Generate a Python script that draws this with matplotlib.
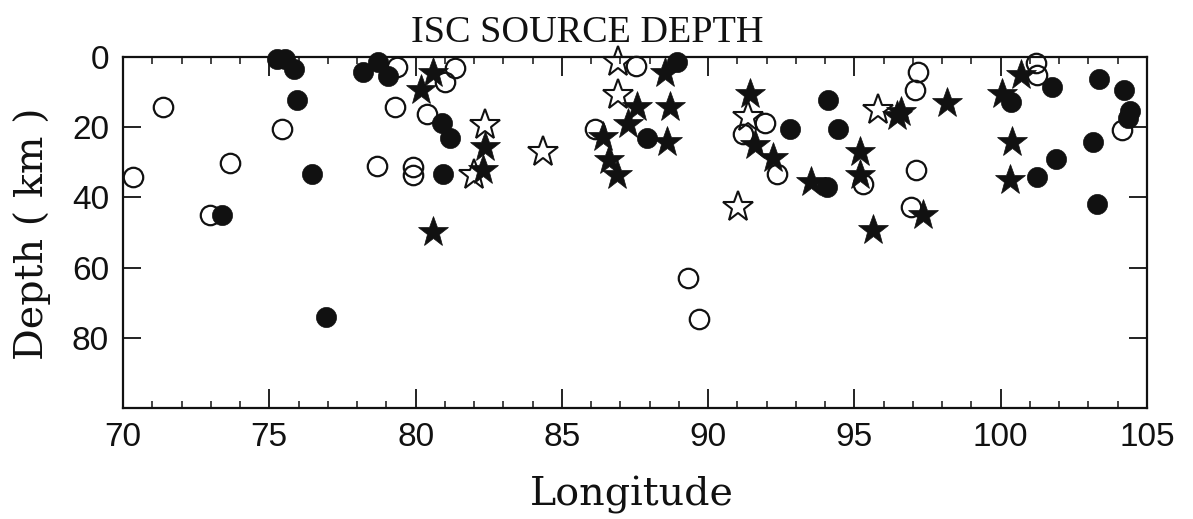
import matplotlib
matplotlib.use("Agg")
import matplotlib.pyplot as plt
from matplotlib.ticker import MultipleLocator

# Event longitudes (deg E) and ISC source depths (km), grouped by symbol
filled_circle_lon = [75.25, 75.55, 75.85, 75.94, 76.45, 76.93, 73.37, 78.2, 78.7, 79.05,
                     80.9, 81.18, 80.95, 87.92, 88.92, 92.8, 94.1, 94.45, 94.05, 100.35,
                     101.75, 101.23, 101.89, 103.14, 103.3, 103.37, 104.22, 104.42, 104.36]
filled_circle_dep = [0.5, 0.5, 3.5, 12.3, 33.2, 74.2, 44.9, 4.2, 1.3, 5.5,
                     18.9, 23.2, 33.2, 23.2, 1.5, 20.4, 12.3, 20.4, 37.0, 12.8,
                     8.5, 34.2, 29.2, 24.2, 41.8, 6.4, 9.3, 15.3, 17.5]

open_circle_lon = [70.33, 71.37, 72.97, 73.66, 75.42, 78.67, 79.3, 79.35, 79.92, 79.92,
                   80.38, 81.0, 81.35, 86.13, 87.55, 89.3, 89.7, 91.2, 91.94, 92.34,
                   95.3, 97.18, 97.07, 97.12, 96.95, 101.2, 101.25, 104.15]
open_circle_dep = [34.2, 14.2, 44.9, 30.2, 20.4, 31.1, 14.2, 2.8, 31.3, 33.5,
                   16.3, 7.0, 3.2, 20.4, 2.5, 62.9, 74.7, 21.8, 18.9, 33.2,
                   36.1, 4.2, 9.4, 32.1, 42.8, 1.8, 5.1, 20.8]

filled_star_lon = [80.2, 80.6, 80.6, 82.37, 82.31, 86.42, 86.62, 86.87, 87.27, 87.58,
                   88.52, 88.69, 88.58, 91.43, 91.6, 92.23, 93.53, 95.19, 95.19, 95.65,
                   96.45, 96.6, 97.35, 98.15, 100.03, 100.71, 100.37, 100.32]
filled_star_dep = [9.4, 4.7, 49.8, 25.6, 32.3, 22.8, 29.4, 33.7, 19.2, 14.2,
                   4.7, 14.2, 24.2, 10.4, 25.1, 28.9, 35.6, 27.0, 33.7, 49.4,
                   16.8, 15.6, 45.1, 13.2, 10.4, 5.1, 24.2, 35.1]

open_star_lon = [82.37, 81.99, 84.37, 86.93, 86.93, 91.03, 91.37, 95.8]
open_star_dep = [19.4, 33.7, 27.0, 1.3, 10.9, 42.8, 17.0, 15.1]

x_ticks = [70, 75, 80, 85, 90, 95, 100, 105]
y_ticks = [0, 20, 40, 60, 80]

INK = "#111111"
SERIF = ["Liberation Serif", "DejaVu Serif"]
SERIF_WIDE = ["DejaVu Serif"]
SANS = ["Liberation Sans", "DejaVu Sans"]

fig = plt.figure(figsize=(11.93, 5.19), dpi=100)
fig.patch.set_facecolor("white")
ax = fig.add_axes([123 / 1193, 1 - 408 / 519, 1024 / 1193, 351 / 519])

ax.plot(open_circle_lon, open_circle_dep, "o", ms=14, mfc="none", mec=INK, mew=1.6,
        clip_on=False, zorder=3)
ax.plot(open_star_lon, open_star_dep, "*", ms=22.5, mfc="none", mec=INK, mew=1.5,
        clip_on=False, zorder=3)
ax.plot(filled_circle_lon, filled_circle_dep, "o", ms=14.5, mfc=INK, mec=INK, mew=0.5,
        clip_on=False, zorder=4)
ax.plot(filled_star_lon, filled_star_dep, "*", ms=22.5, mfc=INK, mec=INK, mew=0.5,
        clip_on=False, zorder=4)

ax.set_xlim(70, 105)
ax.set_ylim(100, 0)
ax.set_xticks(x_ticks)
ax.set_yticks(y_ticks)
ax.xaxis.set_minor_locator(MultipleLocator(1))

for s in ax.spines.values():
    s.set_linewidth(1.6)
    s.set_color(INK)

ax.tick_params(which="both", direction="in", top=True, right=True, color=INK)
ax.tick_params(axis="x", which="major", length=14, width=1.3, pad=10)
ax.tick_params(axis="x", which="minor", length=5, width=1.1)
ax.tick_params(axis="y", which="major", length=13, width=1.3, pad=10)
for lab in ax.get_xticklabels() + ax.get_yticklabels():
    lab.set_family(SANS)
    lab.set_fontsize(24)
    lab.set_color(INK)

fig.text(587 / 1193, 1 - 42 / 519, "ISC SOURCE DEPTH", family=SERIF, fontsize=27.5,
         ha="center", va="baseline", color=INK)
fig.text(632 / 1193, 1 - 505 / 519, "Longitude", family=SERIF_WIDE, fontsize=28.5,
         ha="center", va="baseline", color=INK)
fig.text(32 / 1193, 1 - 234 / 519, "Depth ( km )", family=SERIF_WIDE, fontsize=28.5,
         rotation=90, ha="center", va="center", color=INK)

fig.savefig("out.png", dpi=100, facecolor="white")
